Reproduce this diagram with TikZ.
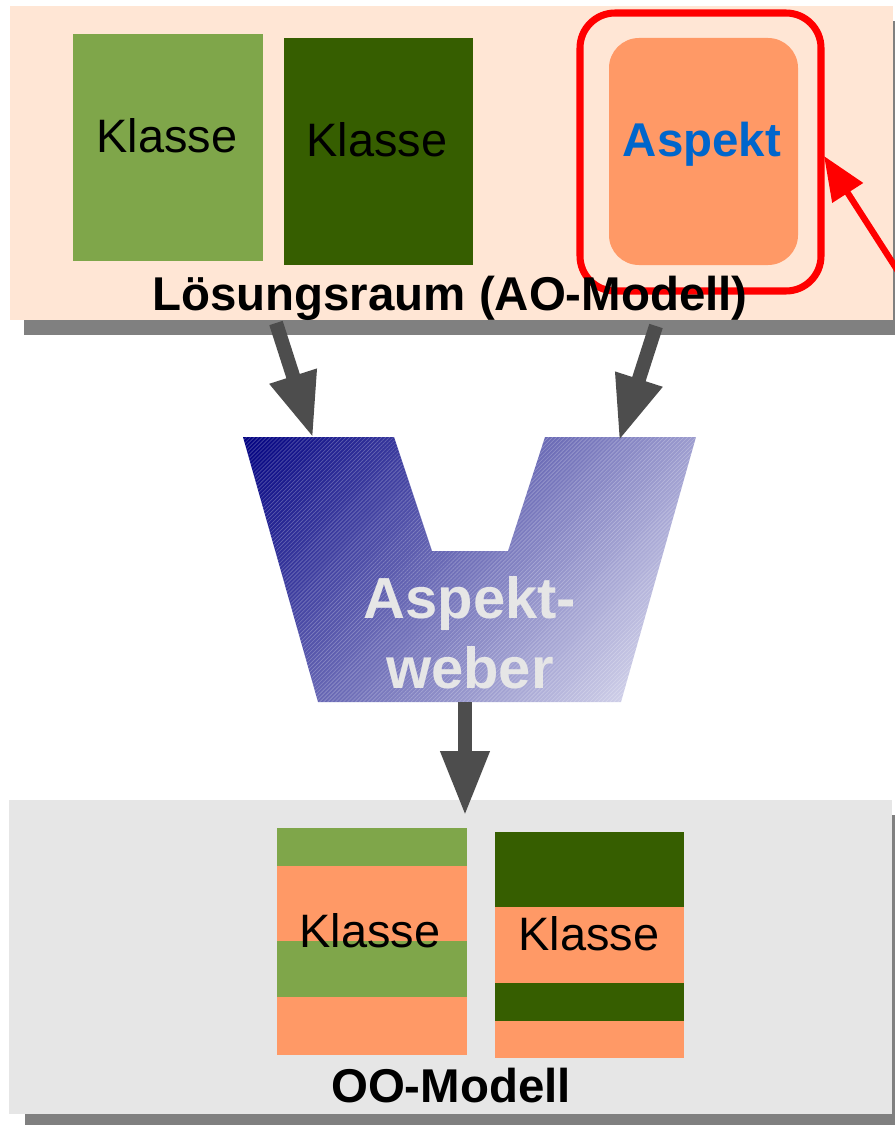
\documentclass[tikz,border=0pt]{standalone}
\usepackage{fontspec}
\setmainfont{Liberation Sans}
\usetikzlibrary{arrows.meta,positioning,patterns.meta}

\definecolor{hellgruen}{RGB}{127,166,74}
\definecolor{dunkelgruen}{RGB}{54,94,0}
\definecolor{aspektorange}{RGB}{255,153,102}
\definecolor{pfirsich}{RGB}{255,230,213}
\definecolor{hellgrau}{RGB}{230,230,230}
\definecolor{schatten}{RGB}{128,128,128}
\definecolor{pfeilgrau}{RGB}{77,77,77}
\definecolor{aspektblau}{RGB}{0,102,204}
\definecolor{webernavy}{RGB}{0,0,128}
\definecolor{weberhell}{RGB}{234,234,246}

\pgfdeclareverticalshading{weberverlauf}{100bp}{color(0bp)=(weberhell); color(14bp)=(weberhell); color(86bp)=(webernavy); color(100bp)=(webernavy)}

\begin{document}
\begin{tikzpicture}[x=0.02cm, y=-0.02cm,
  txt/.style={anchor=base, font=\fontsize{26.7}{32}\selectfont},
  btxt/.style={anchor=base, font=\fontsize{27}{32}\selectfont\bfseries},
  webertxt/.style={anchor=base, text=hellgrau, font=\fontsize{33}{40}\selectfont\bfseries},
  pfeil/.style={draw=pfeilgrau, line width=8pt, -{Triangle[length=37pt, width=26pt]}},
  rotpfeil/.style={draw=red, line width=3.6pt, -{Triangle[length=25pt, width=20pt]}}]
\useasboundingbox (0,0) rectangle (895,1125);
\clip (0,0) rectangle (895,1125);

% Loesungsraum
\fill [schatten] (24,21) rectangle (910,335);
\fill [pfirsich] (10,6) rectangle (893,320);
\fill [hellgruen] (73,34) rectangle (263,261);
\fill [dunkelgruen] (284,38) rectangle (473,265);
\fill [aspektorange, rounded corners=0.6cm] (609,38) rectangle (798,265);
\draw [red, line width=4pt, rounded corners=0.7cm] (580,13) rectangle (821,291);
\node [txt] (klasse1) at (167,153) {Klasse};
\node [txt] (klasse2) at (377,157) {Klasse};
\node [btxt, text=aspektblau] (aspekt) at (702,157) {Aspekt};
\node [btxt] (loesung) at (450,310) {Lösungsraum (AO-Modell)};

% OO-Modell
\fill [schatten] (25,815) rectangle (910,1140);
\fill [hellgrau] (9,800) rectangle (892,1114);
\foreach \a/\b/\c in {828/866/hellgruen, 866/941/aspektorange, 941/997/hellgruen, 997/1055/aspektorange}
  \fill [\c] (277,\a) rectangle (467,\b);
\foreach \a/\b/\c in {832/907/dunkelgruen, 907/983/aspektorange, 983/1021/dunkelgruen, 1021/1058/aspektorange}
  \fill [\c] (495,\a) rectangle (684,\b);
\node [txt] (klasse3) at (370,947) {Klasse};
\node [txt] (klasse4) at (589,950) {Klasse};
\node [btxt] (oomodell) at (451,1102) {OO-Modell};

% Aspektweber
\shade [shading=weberverlauf, shading angle=50]
  (243,437) -- (394,437) -- (432,551) -- (508,551) -- (545,437) -- (696,437)
  -- (621,702) -- (318,702) -- cycle;
\fill [pattern={Lines[angle=45, distance=1.6pt, line width=0.35pt]}, pattern color=white, opacity=0.25]
  (243,437) -- (394,437) -- (432,551) -- (508,551) -- (545,437) -- (696,437)
  -- (621,702) -- (318,702) -- cycle;
\node [webertxt] (weber) at (470,618) {Aspekt-};
\node [webertxt] (weber2) at (470,688) {weber};

% Pfeile
\coordinate (aus1) at (276,323);
\coordinate (ein1) at (313,438);
\coordinate (aus2) at (656,326);
\coordinate (ein2) at (619,441);
\coordinate (aus3) at (465,702);
\coordinate (ein3) at (465,816);
\coordinate (rot1) at (912,293);
\coordinate (rot2) at (824,156);
\draw [pfeil] (aus1) -- (ein1);
\draw [pfeil] (aus2) -- (ein2);
\draw [pfeil] (aus3) -- (ein3);
\draw [rotpfeil] (rot1) -- (rot2);
\end{tikzpicture}
\end{document}
